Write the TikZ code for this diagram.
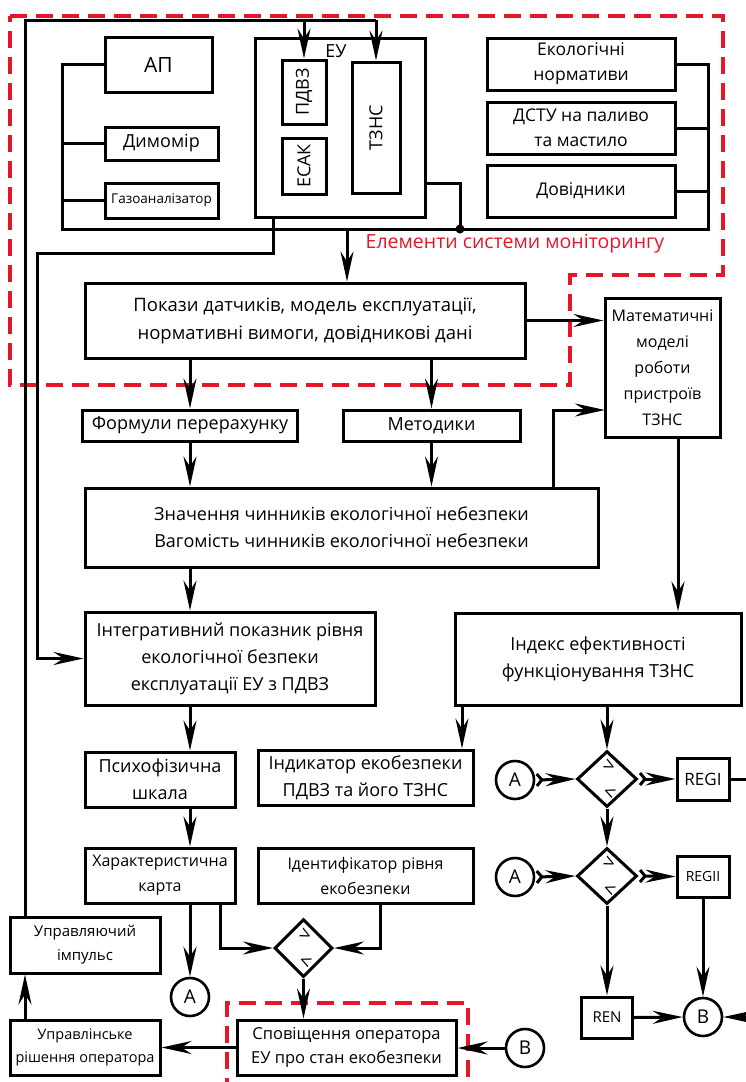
\documentclass[tikz,border=0pt]{standalone}
\usepackage{fontspec}
\setmainfont{Open Sans}
\usetikzlibrary{arrows.meta,shapes.geometric,calc}
\definecolor{myred}{RGB}{228,22,40}
\tikzset{
 box/.style={draw, line width=3pt, rectangle, inner sep=1pt, align=center, font=\fontsize{18}{27}\selectfont},
 conn/.style={line width=3pt},
 arr/.style={conn, -{Stealth[length=30pt 0,width=13pt 0,inset=10pt 0]}},
 tarr/.style={conn, {Straight Barb[reversed,length=5pt,width=12pt]}-{Stealth[length=30pt 0,width=13pt 0,inset=10pt 0]}},
 reddash/.style={draw=myred, line width=4.5pt, dash pattern=on 17pt off 9pt},
 circ/.style={draw, circle, line width=2.6pt, minimum size=38pt, inner sep=0pt, font=\fontsize{19}{19}\selectfont},
 dia/.style={draw, diamond, line width=3pt, inner sep=0pt, aspect=1.07},
 sym/.style={font=\fontsize{20}{20}\selectfont, rotate=-25, inner sep=0pt},
}
\begin{document}
\begin{tikzpicture}[x=1pt,y=-1pt]
\useasboundingbox (0,0) rectangle (745,1082);

% red dashed outlines
\draw[reddash] (10,16) -- (723,16) -- (723,275) -- (570,275) -- (570,385) -- (10,385) -- cycle;
\draw[reddash] (227,1095) -- (227,1003) -- (468,1003) -- (468,1095);

% monitoring elements
\node[box, minimum width=107, minimum height=55, font=\fontsize{21}{21}\selectfont] (ap) at (158.5,64.5) {АП};
\node[box, minimum width=113, minimum height=33] (dym) at (161.5,143.5) {Димомір};
\node[box, minimum width=113, minimum height=35, font=\fontsize{13.5}{13.5}\selectfont] (gaz) at (161.5,200.5) {Газоаналізатор};
\node[box, minimum width=170, minimum height=179] (eu) at (340,127.5) {};
\node[font=\fontsize{18}{18}\selectfont, inner sep=0pt] (eulbl) at (336,51) {ЕУ};
\node[box, rotate=90, minimum width=64, minimum height=44] (pdvz) at (304,92) {ПДВЗ};
\node[box, rotate=90, minimum width=56, minimum height=44] (esak) at (304,166) {ЕСАК};
\node[box, rotate=90, minimum width=131, minimum height=48] (tzns) at (376,127.5) {ТЗНС};
\node[box, minimum width=188, minimum height=52, font=\fontsize{17.5}{25}\selectfont] (eko) at (581,64) {Екологічні\\нормативи};
\node[box, minimum width=188, minimum height=52, font=\fontsize{17.5}{25}\selectfont] (dstu) at (581,128) {ДСТУ на паливо\\та мастило};
\node[box, minimum width=188, minimum height=52, font=\fontsize{17.5}{25}\selectfont] (dov) at (581,191) {Довідники};
\node[font=\fontsize{19.5}{19.5}\selectfont, text=myred, inner sep=0pt] (lbl) at (515,244) {Елементи системи моніторингу};

\coordinate (lbb) at (62,229);
\coordinate (rbb) at (708,229);
\coordinate (dot) at (460,229);
\coordinate (eur) at (425,183);
\draw[conn] (ap.west) -| (lbb) -- (rbb) |- (eko.east);
\draw[conn] (dym.west) -- (dym.west -| lbb);
\draw[conn] (gaz.west) -- (gaz.west -| lbb);
\draw[conn] (dstu.east) -- (dstu.east -| rbb);
\draw[conn] (dov.east) -- (dov.east -| rbb);
\draw[conn] (eur) -| (dot);
\fill (dot) circle (4.5pt);

% main flow
\node[box, minimum width=440, minimum height=75, font=\fontsize{18.5}{28}\selectfont] (pok) at (305,320.5) {Покази датчиків, модель експлуатації,\\нормативні вимоги, довідникові дані};
\node[box, minimum width=115, minimum height=139, font=\fontsize{16}{26}\selectfont] (mat) at (662.5,367.5) {Математичні\\моделі\\роботи\\пристроїв\\ТЗНС};
\node[box, minimum width=215, minimum height=31] (form) at (190,425.5) {Формули перерахунку};
\node[box, minimum width=177, minimum height=31] (met) at (431.5,425.5) {Методики};
\node[box, minimum width=513, minimum height=79] (zn) at (341.5,527.5) {Значення чинників екологічної небезпеки\\Вагомість чинників екологічної небезпеки};
\node[box, minimum width=290, minimum height=93] (integ) at (230,658.5) {Інтегративний показник рівня\\екологічної безпеки\\експлуатації ЕУ з ПДВЗ};
\node[box, minimum width=286, minimum height=92] (idx) at (598,659) {Індекс ефективності\\функціонування ТЗНС};
\node[box, minimum width=150, minimum height=55] (psy) at (160,779.5) {Психофізична\\шкала};
\node[box, minimum width=215, minimum height=55] (ind) at (365.5,777.5) {Індикатор екобезпеки\\ПДВЗ та його ТЗНС};
\node[box, minimum width=150, minimum height=55, font=\fontsize{16}{25}\selectfont] (char) at (160,875.5) {Характеристична\\карта};
\node[box, minimum width=215, minimum height=55, font=\fontsize{16}{25}\selectfont] (ident) at (365.5,875.5) {Ідентифікатор рівня\\екобезпеки};
\node[box, minimum width=150, minimum height=56, font=\fontsize{15}{24}\selectfont] (upri) at (85,945) {Управляючий\\імпульс};
\node[box, minimum width=150, minimum height=55, font=\fontsize{14.5}{23}\selectfont] (uprr) at (85,1047.5) {Управлінське\\рішення оператора};
\node[box, minimum width=219, minimum height=55, font=\fontsize{16.5}{24}\selectfont] (spov) at (346.5,1047.5) {Сповіщення оператора\\ЕУ про стан екобезпеки};

% decision diamonds and connectors
\node[dia, minimum width=60, minimum height=56] (d1) at (607,779) {};
\node[dia, minimum width=60, minimum height=56] (d2) at (607,876) {};
\node[dia, minimum width=58, minimum height=58] (d3) at (303.5,948) {};
\node[sym] (d1g) at (609,766) {>};
\node[sym] (d1l) at (609,793) {<};
\node[sym] (d2g) at (609,863) {>};
\node[sym] (d2l) at (609,890) {<};
\node[sym] (d3g) at (305,935) {>};
\node[sym] (d3l) at (305,962) {<};
\node[circ] (a1) at (515,780) {A};
\node[circ] (a2) at (515,877) {A};
\node[circ] (a3) at (190,997) {A};
\node[circ] (b1) at (703,1017) {B};
\node[circ] (b2) at (525,1048) {B};
\node[box, minimum width=52, minimum height=42, font=\fontsize{17}{17}\selectfont] (regi) at (703,779) {REGI};
\node[box, minimum width=52, minimum height=41, font=\fontsize{14}{14}\selectfont] (regii) at (703,876.5) {REGII};
\node[box, minimum width=51, minimum height=41, font=\fontsize{15}{15}\selectfont] (ren) at (607,1017.5) {REN};

% coordinates
\coordinate (tl) at (25,20);
\coordinate (busd) at (347,229);
\coordinate (eub) at (273,217);
\coordinate (c1) at (37,253);
\coordinate (zq) at (553,488);
\coordinate (matin) at (605,410);
\coordinate (mq) at (678,437);
\coordinate (ix) at (462,705);
\coordinate (cq) at (220,903);
\coordinate (iq) at (380,903);
\coordinate (ur) at (25,1020);
\coordinate (e1) at (746,779);
\coordinate (e2) at (746,1017);

% top feedback
\draw[conn] (upri.north -| tl) -- (tl) -- (tl -| tzns.east);
\draw[arr] (tl -| pdvz.east) -- (pdvz.east);
\draw[arr] (tl -| tzns.east) -- (tzns.east);
\draw[arr] (ur) -- (ur |- upri.south);

\draw[arr] (busd) -- (busd |- pok.north);
\draw[arr] (eub) |- (c1) |- (integ.west);
\draw[arr] (pok.east) -- (pok.east -| mat.west);
\draw[arr] (form.north |- pok.south) -- (form.north);
\draw[arr] (met.north |- pok.south) -- (met.north);
\draw[arr] (form.south) -- (form.south |- zn.north);
\draw[arr] (met.south) -- (met.south |- zn.north);
\draw[arr] (zq) |- (matin);
\draw[arr] (mq) -- (mq |- idx.north);
\draw[arr] (form.south |- zn.south) -- (form.south |- integ.north);
\draw[arr] (form.south |- integ.south) -- (form.south |- psy.north);
\draw[arr] (form.south |- psy.south) -- (form.south |- char.north);
\draw[arr] (a3 |- char.south) -- (a3.north);
\draw[arr] (cq) |- (d3.west);
\draw[arr] (iq) |- (d3.east);
\draw[arr] (d3.south) -- (d3.south |- spov.north);
\draw[arr] (b2.west) -- (b2.west -| spov.east);
\draw[arr] (spov.west) -- (spov.west -| uprr.east);

\draw[arr] (ix) -- (ix |- ind.north);
\draw[arr] (d1.north |- idx.south) -- (d1.north);
\draw[tarr] (a1.east) -- (d1.west);
\draw[tarr] (d1.east) -- (regi.west);
\draw[conn] (regi.east) -- (e1);
\draw[arr] (d1.south) -- (d2.north);
\draw[tarr] (a2.east) -- (d2.west);
\draw[tarr] (d2.east) -- (regii.west);
\draw[arr] (regii.south) -- (b1.north);
\draw[arr] (d2.south) -- (ren.north);
\draw[arr] (ren.east) -- (b1.west);
\draw[arr] (e2) -- (b1.east);
\end{tikzpicture}
\end{document}
